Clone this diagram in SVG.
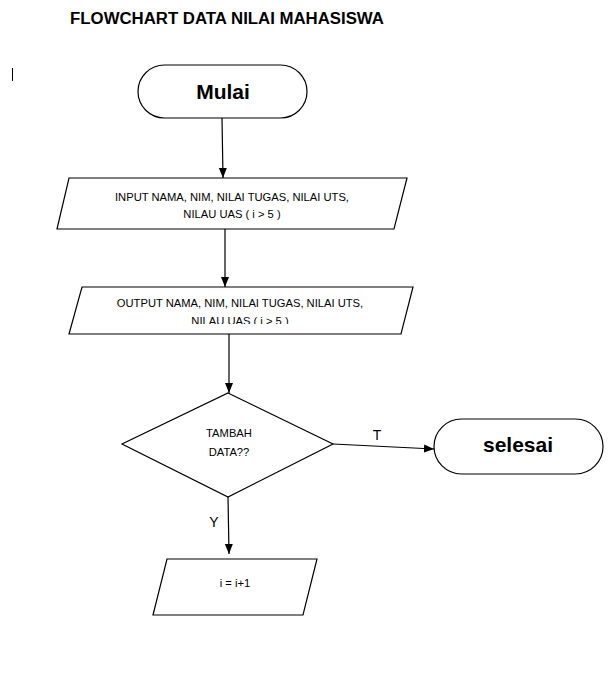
<svg xmlns="http://www.w3.org/2000/svg" width="616" height="679" viewBox="0 0 616 679">
<style>
.shape{fill:#fff;stroke:#000;stroke-width:1.2}
.conn{fill:none;stroke:#000;stroke-width:1.2}
.t{font-family:"Liberation Sans",Arial,sans-serif;fill:#000;text-anchor:middle}
.body{font-size:11.2px}
.big{font-size:21px;font-weight:bold}
.lbl{font-size:14px}
</style>
<defs>
<marker id="ah" markerUnits="userSpaceOnUse" markerWidth="10" markerHeight="10" viewBox="0 0 10 10" refX="10" refY="5" orient="auto">
<path d="M0,1 L10,5 L0,9 Z" fill="#000"/>
</marker>
<clipPath id="outclip"><rect x="60" y="287" width="360" height="37"/></clipPath>
</defs>
<rect width="616" height="679" fill="#fff"/>
<g id="title"><text class="t" x="227" y="24" style="font-size:16.8px;font-weight:bold">FLOWCHART DATA NILAI MAHASISWA</text></g>
<g id="cursor"><line x1="12.5" y1="68" x2="12.5" y2="81" stroke="#000" stroke-width="1"/></g>
<g id="mulai"><rect class="shape" x="138" y="65" width="169" height="53" rx="26.5"/><text class="t big" x="223" y="99">Mulai</text></g>
<g id="input"><polygon class="shape" points="69,178 407,178 394,229 57,229"/><text class="t body" x="232" y="201">INPUT NAMA, NIM, NILAI TUGAS, NILAI UTS,</text><text class="t body" x="232" y="218">NILAU UAS ( i &gt; 5 )</text></g>
<g id="output"><polygon class="shape" points="82,287 413,287 401,334 69,334"/><g clip-path="url(#outclip)"><text class="t body" x="240" y="307">OUTPUT NAMA, NIM, NILAI TUGAS, NILAI UTS,</text><text class="t body" x="240" y="325">NILAU UAS ( i &gt; 5 )</text></g></g>
<g id="decision"><polygon class="shape" points="228,393 333,444 228,497 122,444"/><text class="t body" x="229" y="437">TAMBAH</text><text class="t body" x="229" y="456">DATA??</text></g>
<g id="selesai"><rect class="shape" x="434" y="419" width="169" height="55" rx="27.5"/><text class="t big" x="518" y="452">selesai</text></g>
<g id="increment"><polygon class="shape" points="167,559 317,559 303,615 153,615"/><text class="t body" x="235" y="587">i = i+1</text></g>
<g id="connectors">
<line class="conn" x1="222" y1="118" x2="223" y2="178" marker-end="url(#ah)"/>
<line class="conn" x1="225" y1="229" x2="225" y2="287" marker-end="url(#ah)"/>
<line class="conn" x1="229" y1="334" x2="229" y2="393" marker-end="url(#ah)"/>
<line class="conn" x1="333" y1="444" x2="434" y2="449" marker-end="url(#ah)"/>
<line class="conn" x1="228" y1="497" x2="229" y2="554" marker-end="url(#ah)"/>
<text class="t lbl" x="377" y="440">T</text>
<text class="t lbl" x="214" y="527">Y</text>
</g>
</svg>
